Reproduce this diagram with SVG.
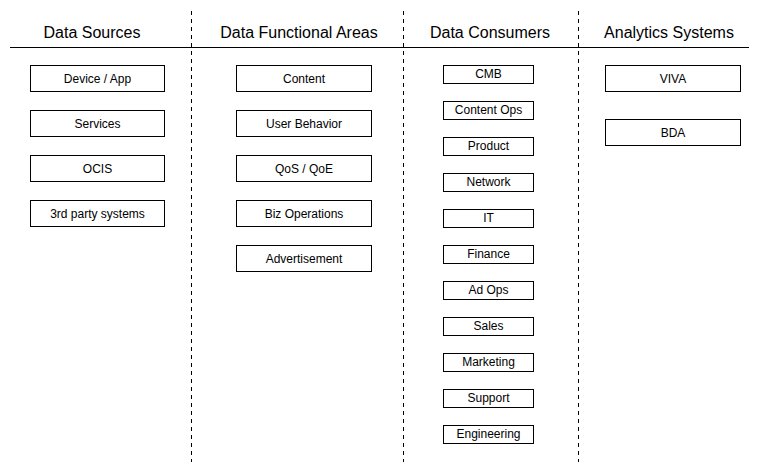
<svg xmlns="http://www.w3.org/2000/svg" width="760" height="472" viewBox="0 0 760 472">
<style>
.h{font-family:"Liberation Sans",Arial,sans-serif;font-size:16px;fill:#000;text-anchor:middle}
.t{font-family:"Liberation Sans",Arial,sans-serif;font-size:12px;fill:#000;text-anchor:middle}
.b{fill:#fff;stroke:#000;stroke-width:1}
.d{stroke:#000;stroke-width:1;stroke-dasharray:4 4;fill:none}
</style>
<rect width="760" height="472" fill="#fff"/>
<g id="connectors">
<line x1="10" y1="47.5" x2="749" y2="47.5" stroke="#000" stroke-width="1"/>
<line class="d" x1="191.5" y1="11" x2="191.5" y2="462"/>
<line class="d" x1="403.5" y1="11" x2="403.5" y2="462"/>
<line class="d" x1="578.5" y1="11" x2="578.5" y2="462"/>
</g>
<g id="headers">
<text class="h" x="92" y="38">Data Sources</text>
<text class="h" x="299" y="38">Data Functional Areas</text>
<text class="h" x="490" y="38">Data Consumers</text>
<text class="h" x="669" y="38">Analytics Systems</text>
</g>
<g id="n-device"><rect class="b" x="30.5" y="65.5" width="134" height="26"/><text class="t" x="97.5" y="83">Device / App</text></g>
<g id="n-services"><rect class="b" x="30.5" y="110.5" width="134" height="26"/><text class="t" x="97.5" y="128">Services</text></g>
<g id="n-ocis"><rect class="b" x="30.5" y="155.5" width="134" height="26"/><text class="t" x="97.5" y="173">OCIS</text></g>
<g id="n-3rd"><rect class="b" x="30.5" y="200.5" width="134" height="26"/><text class="t" x="97.5" y="218">3rd party systems</text></g>
<g id="n-content"><rect class="b" x="236.5" y="65.5" width="135" height="26"/><text class="t" x="304" y="83">Content</text></g>
<g id="n-userbeh"><rect class="b" x="236.5" y="110.5" width="135" height="26"/><text class="t" x="304" y="128">User Behavior</text></g>
<g id="n-qos"><rect class="b" x="236.5" y="155.5" width="135" height="26"/><text class="t" x="304" y="173">QoS / QoE</text></g>
<g id="n-biz"><rect class="b" x="236.5" y="200.5" width="135" height="26"/><text class="t" x="304" y="218">Biz Operations</text></g>
<g id="n-adv"><rect class="b" x="236.5" y="245.5" width="135" height="26"/><text class="t" x="304" y="263">Advertisement</text></g>
<g id="n-cmb"><rect class="b" x="443.5" y="65.5" width="90" height="18"/><text class="t" x="488.5" y="78">CMB</text></g>
<g id="n-contentops"><rect class="b" x="443.5" y="101.5" width="90" height="18"/><text class="t" x="488.5" y="114">Content Ops</text></g>
<g id="n-product"><rect class="b" x="443.5" y="137.5" width="90" height="18"/><text class="t" x="488.5" y="150">Product</text></g>
<g id="n-network"><rect class="b" x="443.5" y="173.5" width="90" height="18"/><text class="t" x="488.5" y="186">Network</text></g>
<g id="n-it"><rect class="b" x="443.5" y="209.5" width="90" height="18"/><text class="t" x="488.5" y="222">IT</text></g>
<g id="n-finance"><rect class="b" x="443.5" y="245.5" width="90" height="18"/><text class="t" x="488.5" y="258">Finance</text></g>
<g id="n-adops"><rect class="b" x="443.5" y="281.5" width="90" height="18"/><text class="t" x="488.5" y="294">Ad Ops</text></g>
<g id="n-sales"><rect class="b" x="443.5" y="317.5" width="90" height="18"/><text class="t" x="488.5" y="330">Sales</text></g>
<g id="n-marketing"><rect class="b" x="443.5" y="353.5" width="90" height="18"/><text class="t" x="488.5" y="366">Marketing</text></g>
<g id="n-support"><rect class="b" x="443.5" y="389.5" width="90" height="18"/><text class="t" x="488.5" y="402">Support</text></g>
<g id="n-engineering"><rect class="b" x="443.5" y="425.5" width="90" height="18"/><text class="t" x="488.5" y="438">Engineering</text></g>
<g id="n-viva"><rect class="b" x="605.5" y="65.5" width="135" height="26"/><text class="t" x="673" y="83">VIVA</text></g>
<g id="n-bda"><rect class="b" x="605.5" y="119.5" width="135" height="26"/><text class="t" x="673" y="137">BDA</text></g>
</svg>
